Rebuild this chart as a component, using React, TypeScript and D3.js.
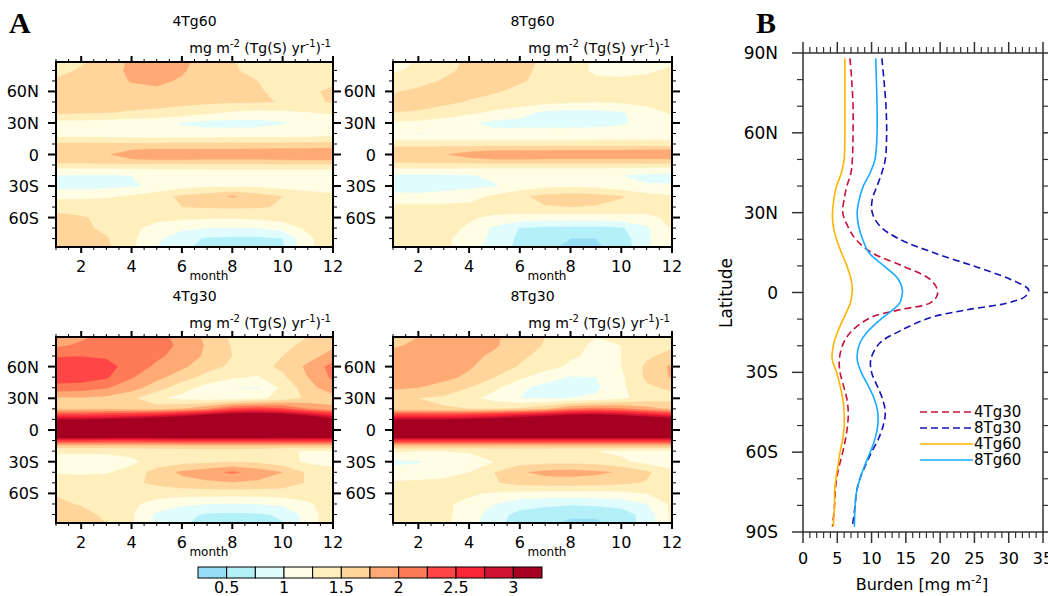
import React from 'react';
import * as d3 from 'd3';

// ---------- Panel A data (zonal-mean burden per unit emission, month x latitude) ----------
const MONTHS = [1, 2, 3, 4, 5, 6, 7, 8, 9, 10, 11, 12];
const LATS = [88, 80, 70, 60, 50, 40, 30, 20, 15, 10, 5, 0, -5, -10, -15, -20, -30, -40, -50, -60, -70, -80, -88];
const LEVELS = [0.5, 0.75, 1, 1.25, 1.5, 1.75, 2, 2.25, 2.5, 2.75, 3];
const LEVEL_COLORS = ['#96def5', '#b4f0f8', '#e0fcfd', '#fffde3', '#ffefbd', '#ffd59b', '#ffaa75', '#ff7a57', '#ff4545', '#fa2535', '#d01232', '#a50021'];
const COLORBAR_LABELS = ['0.5', '1', '1.5', '2', '2.5', '3'];
const MONTH_TICKS = [2, 4, 6, 8, 10, 12];
const LAT_TICKS = [60, 30, 0, -30, -60];
const LAT_TICK_LABELS = ['60N', '30N', '0', '30S', '60S'];

const A_4TG60 = [
  [1.45, 1.48, 1.6, 1.8, 1.9, 1.8, 1.65, 1.51, 1.45, 1.4, 1.4, 1.4],
  [1.45, 1.52, 1.65, 1.8, 1.88, 1.78, 1.62, 1.52, 1.45, 1.38, 1.38, 1.4],
  [1.52, 1.6, 1.68, 1.76, 1.8, 1.72, 1.6, 1.55, 1.5, 1.42, 1.4, 1.45],
  [1.62, 1.65, 1.68, 1.7, 1.7, 1.65, 1.6, 1.55, 1.52, 1.45, 1.45, 1.55],
  [1.6, 1.6, 1.6, 1.58, 1.58, 1.56, 1.55, 1.53, 1.52, 1.49, 1.45, 1.52],
  [1.55, 1.53, 1.51, 1.48, 1.45, 1.4, 1.3, 1.22, 1.18, 1.2, 1.24, 1.28],
  [1.15, 1.15, 1.12, 1.1, 1.05, 0.98, 0.92, 0.9, 0.92, 0.98, 1.08, 1.12],
  [1.15, 1.15, 1.12, 1.1, 1.08, 1.08, 1.1, 1.12, 1.12, 1.12, 1.15, 1.18],
  [1.3, 1.3, 1.3, 1.28, 1.28, 1.3, 1.3, 1.3, 1.3, 1.3, 1.3, 1.32],
  [1.55, 1.55, 1.55, 1.55, 1.55, 1.56, 1.56, 1.57, 1.57, 1.57, 1.58, 1.6],
  [1.65, 1.67, 1.7, 1.74, 1.76, 1.76, 1.76, 1.76, 1.77, 1.78, 1.78, 1.8],
  [1.7, 1.72, 1.74, 1.8, 1.85, 1.85, 1.85, 1.85, 1.85, 1.86, 1.87, 1.88],
  [1.65, 1.67, 1.7, 1.74, 1.75, 1.75, 1.74, 1.74, 1.74, 1.75, 1.76, 1.76],
  [1.42, 1.42, 1.42, 1.42, 1.42, 1.42, 1.45, 1.45, 1.45, 1.45, 1.45, 1.45],
  [1.15, 1.15, 1.15, 1.18, 1.2, 1.2, 1.2, 1.2, 1.2, 1.2, 1.2, 1.2],
  [1.0, 0.98, 0.98, 1.0, 1.05, 1.1, 1.12, 1.12, 1.12, 1.12, 1.12, 1.1],
  [0.92, 0.92, 0.93, 0.97, 1.05, 1.15, 1.2, 1.2, 1.2, 1.15, 1.12, 1.1],
  [1.2, 1.2, 1.22, 1.28, 1.4, 1.55, 1.62, 1.78, 1.62, 1.5, 1.38, 1.32],
  [1.4, 1.4, 1.38, 1.36, 1.42, 1.5, 1.52, 1.53, 1.52, 1.48, 1.42, 1.4],
  [1.58, 1.52, 1.45, 1.38, 1.32, 1.3, 1.28, 1.28, 1.3, 1.35, 1.4, 1.45],
  [1.6, 1.55, 1.45, 1.32, 1.15, 1.05, 1.0, 0.98, 1.0, 1.1, 1.3, 1.42],
  [1.62, 1.6, 1.52, 1.3, 1.05, 0.85, 0.72, 0.7, 0.7, 0.75, 1.2, 1.4],
  [1.6, 1.6, 1.55, 1.3, 1.0, 0.8, 0.68, 0.66, 0.66, 0.72, 1.2, 1.4],
];

const A_8TG60 = [
  [1.2, 1.26, 1.4, 1.55, 1.62, 1.58, 1.45, 1.32, 1.22, 1.18, 1.2, 1.22],
  [1.22, 1.3, 1.45, 1.55, 1.6, 1.55, 1.45, 1.32, 1.22, 1.2, 1.22, 1.28],
  [1.35, 1.42, 1.52, 1.58, 1.58, 1.52, 1.45, 1.35, 1.28, 1.28, 1.3, 1.32],
  [1.48, 1.55, 1.58, 1.58, 1.52, 1.45, 1.38, 1.32, 1.3, 1.28, 1.3, 1.38],
  [1.55, 1.58, 1.55, 1.48, 1.42, 1.38, 1.32, 1.28, 1.26, 1.28, 1.32, 1.35],
  [1.5, 1.48, 1.4, 1.3, 1.2, 1.1, 0.95, 0.92, 0.93, 0.97, 1.15, 1.28],
  [1.2, 1.18, 1.12, 1.02, 0.95, 0.92, 0.9, 0.9, 0.92, 0.96, 1.1, 1.15],
  [1.1, 0.98, 1.05, 1.0, 1.05, 1.1, 1.12, 1.12, 1.12, 1.12, 1.15, 1.18],
  [1.2, 1.2, 1.2, 1.2, 1.2, 1.2, 1.2, 1.2, 1.22, 1.22, 1.22, 1.22],
  [1.35, 1.35, 1.35, 1.35, 1.35, 1.35, 1.35, 1.35, 1.35, 1.35, 1.35, 1.35],
  [1.62, 1.63, 1.66, 1.7, 1.72, 1.72, 1.72, 1.73, 1.73, 1.73, 1.74, 1.74],
  [1.68, 1.7, 1.74, 1.8, 1.85, 1.85, 1.85, 1.85, 1.85, 1.85, 1.86, 1.86],
  [1.62, 1.63, 1.66, 1.72, 1.74, 1.74, 1.73, 1.73, 1.73, 1.73, 1.73, 1.73],
  [1.4, 1.4, 1.4, 1.4, 1.4, 1.4, 1.4, 1.4, 1.4, 1.4, 1.4, 1.4],
  [1.15, 1.15, 1.15, 1.15, 1.15, 1.15, 1.15, 1.15, 1.15, 1.14, 1.12, 1.12],
  [0.95, 0.95, 0.96, 0.98, 1.05, 1.1, 1.12, 1.12, 1.1, 1.0, 0.95, 0.94],
  [0.92, 0.9, 0.92, 0.95, 0.98, 1.1, 1.18, 1.2, 1.18, 1.08, 1.02, 1.02],
  [1.05, 1.05, 1.08, 1.15, 1.3, 1.45, 1.58, 1.62, 1.6, 1.52, 1.35, 1.28],
  [1.32, 1.32, 1.32, 1.32, 1.38, 1.42, 1.48, 1.5, 1.48, 1.42, 1.35, 1.32],
  [1.35, 1.35, 1.33, 1.28, 1.2, 1.15, 1.12, 1.12, 1.12, 1.15, 1.2, 1.3],
  [1.35, 1.35, 1.32, 1.22, 0.95, 0.74, 0.7, 0.68, 0.68, 0.72, 0.95, 1.28],
  [1.4, 1.38, 1.3, 1.15, 0.92, 0.7, 0.6, 0.5, 0.5, 0.62, 0.95, 1.25],
  [1.52, 1.4, 1.3, 1.12, 0.9, 0.68, 0.55, 0.45, 0.46, 0.6, 0.95, 1.25],
];

const A_4TG30 = [
  [1.85, 1.95, 2.1, 2.15, 2.1, 1.9, 1.7, 1.45, 1.4, 1.42, 1.5, 1.6],
  [1.95, 2.05, 2.15, 2.15, 2.1, 1.95, 1.72, 1.48, 1.42, 1.45, 1.55, 1.7],
  [2.22, 2.24, 2.22, 2.15, 2.05, 1.9, 1.7, 1.5, 1.42, 1.5, 1.65, 1.85],
  [2.42, 2.42, 2.33, 2.15, 1.95, 1.8, 1.6, 1.45, 1.42, 1.55, 1.8, 2.1],
  [2.4, 2.38, 2.28, 2.02, 1.82, 1.62, 1.4, 1.28, 1.22, 1.45, 1.75, 2.05],
  [2.15, 2.12, 2.02, 1.85, 1.62, 1.35, 1.15, 1.0, 0.98, 1.3, 1.65, 1.9],
  [1.7, 1.72, 1.68, 1.55, 1.28, 1.18, 1.12, 1.12, 1.18, 1.35, 1.55, 1.65],
  [1.7, 1.7, 1.7, 1.65, 1.65, 1.75, 1.95, 2.3, 2.4, 2.3, 2.0, 1.8],
  [2.3, 2.3, 2.35, 2.4, 2.5, 2.7, 2.9, 3.1, 3.15, 3.05, 2.8, 2.5],
  [3.0, 3.0, 3.05, 3.15, 3.3, 3.5, 3.8, 4.0, 4.0, 3.9, 3.6, 3.1],
  [4.5, 4.5, 4.5, 4.5, 4.5, 4.5, 4.5, 4.5, 4.5, 4.5, 4.5, 4.5],
  [5.0, 5.0, 5.0, 5.0, 5.0, 5.0, 5.0, 5.0, 5.0, 5.0, 5.0, 5.0],
  [3.6, 3.6, 3.55, 3.5, 3.5, 3.5, 3.5, 3.5, 3.5, 3.45, 3.4, 3.4],
  [2.45, 2.45, 2.4, 2.4, 2.45, 2.5, 2.5, 2.5, 2.5, 2.5, 2.5, 2.5],
  [1.65, 1.65, 1.65, 1.65, 1.65, 1.65, 1.65, 1.65, 1.65, 1.65, 1.65, 1.65],
  [1.3, 1.3, 1.3, 1.32, 1.35, 1.38, 1.4, 1.4, 1.38, 1.3, 1.22, 1.22],
  [1.12, 1.1, 1.12, 1.2, 1.35, 1.42, 1.45, 1.48, 1.45, 1.35, 1.2, 1.15],
  [1.22, 1.2, 1.22, 1.35, 1.6, 1.8, 1.9, 2.05, 1.9, 1.75, 1.45, 1.35],
  [1.4, 1.4, 1.42, 1.45, 1.55, 1.65, 1.7, 1.72, 1.7, 1.62, 1.48, 1.42],
  [1.48, 1.45, 1.4, 1.35, 1.35, 1.35, 1.35, 1.35, 1.35, 1.38, 1.4, 1.45],
  [1.55, 1.48, 1.4, 1.3, 1.15, 1.05, 1.0, 0.98, 1.0, 1.05, 1.2, 1.4],
  [1.6, 1.58, 1.45, 1.28, 0.95, 0.82, 0.72, 0.7, 0.72, 0.78, 1.1, 1.45],
  [1.6, 1.6, 1.5, 1.28, 0.95, 0.78, 0.68, 0.65, 0.66, 0.74, 1.1, 1.45],
];

const A_8TG30 = [
  [1.6, 1.75, 1.85, 1.85, 1.78, 1.65, 1.5, 1.3, 1.25, 1.25, 1.3, 1.4],
  [1.7, 1.82, 1.88, 1.85, 1.78, 1.62, 1.48, 1.3, 1.22, 1.25, 1.35, 1.45],
  [1.88, 1.9, 1.88, 1.82, 1.7, 1.55, 1.42, 1.28, 1.2, 1.25, 1.45, 1.6],
  [1.92, 1.92, 1.88, 1.78, 1.62, 1.48, 1.35, 1.2, 1.15, 1.25, 1.55, 1.8],
  [1.88, 1.88, 1.82, 1.7, 1.5, 1.3, 1.1, 0.98, 1.0, 1.2, 1.55, 1.78],
  [1.8, 1.75, 1.65, 1.5, 1.3, 1.05, 0.92, 0.9, 0.95, 1.2, 1.45, 1.55],
  [1.52, 1.5, 1.45, 1.32, 1.15, 1.0, 0.98, 1.0, 1.05, 1.2, 1.35, 1.4],
  [1.55, 1.55, 1.52, 1.5, 1.5, 1.55, 1.7, 2.0, 2.1, 2.05, 1.85, 1.7],
  [2.3, 2.3, 2.3, 2.35, 2.45, 2.6, 2.75, 2.9, 2.95, 2.85, 2.65, 2.45],
  [3.0, 3.0, 3.0, 3.05, 3.15, 3.3, 3.5, 3.7, 3.7, 3.6, 3.4, 3.2],
  [4.5, 4.5, 4.5, 4.5, 4.5, 4.5, 4.5, 4.5, 4.5, 4.5, 4.5, 4.5],
  [5.0, 5.0, 5.0, 5.0, 5.0, 5.0, 5.0, 5.0, 5.0, 5.0, 5.0, 5.0],
  [3.5, 3.5, 3.5, 3.5, 3.5, 3.5, 3.5, 3.5, 3.5, 3.5, 3.5, 3.5],
  [2.5, 2.5, 2.5, 2.5, 2.5, 2.5, 2.5, 2.5, 2.5, 2.5, 2.5, 2.5],
  [1.7, 1.7, 1.7, 1.7, 1.7, 1.7, 1.7, 1.7, 1.7, 1.7, 1.7, 1.7],
  [1.28, 1.25, 1.25, 1.28, 1.3, 1.3, 1.3, 1.28, 1.25, 1.2, 1.18, 1.18],
  [0.95, 0.98, 1.05, 1.12, 1.25, 1.38, 1.42, 1.42, 1.4, 1.3, 1.15, 1.12],
  [1.1, 1.1, 1.15, 1.25, 1.5, 1.72, 1.82, 1.85, 1.8, 1.72, 1.55, 1.3],
  [1.28, 1.3, 1.32, 1.38, 1.48, 1.58, 1.62, 1.62, 1.6, 1.55, 1.48, 1.38],
  [1.32, 1.32, 1.3, 1.28, 1.22, 1.18, 1.15, 1.15, 1.15, 1.18, 1.25, 1.35],
  [1.35, 1.32, 1.28, 1.2, 1.0, 0.85, 0.8, 0.78, 0.8, 0.85, 1.0, 1.3],
  [1.4, 1.38, 1.3, 1.15, 0.85, 0.68, 0.62, 0.55, 0.55, 0.62, 0.85, 1.3],
  [1.4, 1.38, 1.3, 1.12, 0.82, 0.65, 0.55, 0.45, 0.45, 0.6, 0.85, 1.3],
];

// ---------- Panel B data (annual zonal-mean burden, mg m-2) ----------
const B_LATS = [88, 80, 70, 60, 50, 45, 40, 35, 30, 25, 20, 15, 10, 5, 1, -1.5, -4, -6.5, -9.5, -14.5, -19, -25, -30, -35, -40, -45, -50, -55, -60, -65, -70, -75, -80, -88];
const B_4TG30 = [6.85, 7.1, 7.3, 7.3, 7.2, 7.0, 6.4, 6.0, 5.8, 6.5, 7.7, 10.0, 14.5, 18.5, 19.6, 19.5, 18.5, 14.1, 9.8, 7.1, 5.9, 5.3, 5.4, 5.9, 6.4, 6.6, 6.5, 6.2, 5.8, 5.3, 4.9, 4.7, 4.6, 4.3];
const B_8TG30 = [11.5, 11.8, 12.1, 12.2, 12.0, 11.5, 10.8, 10.1, 10.1, 11.2, 14.1, 19.0, 24.8, 30.2, 32.9, 32.4, 29.7, 23.9, 18.5, 14.1, 11.2, 9.9, 10.0, 10.8, 11.6, 12.0, 11.7, 11.0, 10.0, 9.1, 8.3, 7.8, 7.6, 7.2];
const B_4TG60 = [6.1, 6.1, 6.1, 6.1, 6.0, 5.6, 4.9, 4.5, 4.3, 4.4, 4.9, 5.6, 6.4, 7.0, 7.2, 7.1, 6.9, 6.5, 5.95, 5.1, 4.5, 4.25, 4.9, 5.4, 5.8, 6.0, 6.0, 5.8, 5.4, 5.1, 4.8, 4.6, 4.6, 4.4];
const B_8TG60 = [10.6, 10.7, 10.8, 10.8, 10.5, 9.8, 8.8, 8.2, 7.9, 8.1, 8.7, 9.6, 11.8, 13.9, 14.5, 14.4, 14.1, 13.1, 11.6, 9.5, 8.3, 7.9, 8.5, 9.5, 10.4, 10.9, 10.9, 10.5, 9.8, 9.0, 8.3, 7.8, 7.6, 7.5];
const B_SERIES_NAMES = ['4Tg30', '8Tg30', '4Tg60', '8Tg60'];
const B_X_TICKS = [0, 5, 10, 15, 20, 25, 30, 35];
const B_Y_TICKS = [90, 60, 30, 0, -30, -60, -90];
const B_Y_LABELS = ['90N', '60N', '30N', '0', '30S', '60S', '90S'];

// ---------- layout / styles ----------
const FONT = 'DejaVu Sans, Verdana, sans-serif';
const PANELS = [
  { id: 'p1', title: '4Tg60', data: A_4TG60, x0: 56, x1: 333, y0: 62, y1: 247 },
  { id: 'p2', title: '8Tg60', data: A_8TG60, x0: 393, x1: 672, y0: 62, y1: 247 },
  { id: 'p3', title: '4Tg30', data: A_4TG30, x0: 56, x1: 333, y0: 337, y1: 523 },
  { id: 'p4', title: '8Tg30', data: A_8TG30, x0: 393, x1: 672, y0: 337, y1: 523 },
];
const B_STYLES = [
  { color: '#c8103c', dash: '7,4' },
  { color: '#1414b4', dash: '7,4' },
  { color: '#ffb400', dash: null },
  { color: '#18aaff', dash: null },
];

function Units({ x, y }: { x: number; y: number }) {
  return (
    <text x={x} y={y} textAnchor="end" fontFamily={FONT} fontSize={14}>
      mg m<tspan dy={-6} fontSize={10}>-2</tspan>
      <tspan dy={6}> (Tg(S) yr</tspan>
      <tspan dy={-6} fontSize={10}>-1</tspan>
      <tspan dy={6}>)</tspan>
      <tspan dy={-6} fontSize={10}>-1</tspan>
    </text>
  );
}

function Heatmap({ p }: { p: any }) {
  const { id, title, data, x0, x1, y0, y1 } = p;
  const xs = d3.scaleLinear().domain([MONTHS[0], MONTHS[MONTHS.length - 1]]).range([x0, x1]);
  const ys = d3.scaleLinear().domain([88, -88]).range([y0, y1]);
  const idxLat = d3.scaleLinear().domain(LATS.map((_, i) => i)).range(LATS);
  const proj = d3.geoTransform({
    point: function (this: any, x: number, y: number) {
      this.stream.point(xs(MONTHS[0] + x - 0.5), ys(idxLat(y - 0.5)));
    },
  });
  const path = d3.geoPath(proj as any);
  const values = (data as number[][]).flat();
  const contours = d3.contours().size([MONTHS.length, LATS.length]).thresholds(LEVELS)(values);

  const minorLat = d3.range(-80, 81, 10).filter((l) => l % 30 !== 0);
  const minorMonth = d3.range(1, 12.01, 0.5).filter((m) => !MONTH_TICKS.includes(m));

  return (
    <g>
      <defs>
        <clipPath id={`clip-${id}`}>
          <rect x={x0} y={y0} width={x1 - x0} height={y1 - y0} />
        </clipPath>
      </defs>
      <g clipPath={`url(#clip-${id})`}>
        <rect x={x0} y={y0} width={x1 - x0} height={y1 - y0} fill={LEVEL_COLORS[0]} />
        {contours.map((c, i) => (
          <path key={i} d={path(c as any) || ''} fill={LEVEL_COLORS[i + 1]} stroke={LEVEL_COLORS[i + 1]} strokeWidth={0.3} />
        ))}
      </g>
      {LAT_TICKS.map((l) => (
        <g key={'M' + l} stroke="#000" strokeWidth={2}>
          <line x1={x0 - 8} x2={x0} y1={ys(l)} y2={ys(l)} />
          <line x1={x1} x2={x1 + 8} y1={ys(l)} y2={ys(l)} />
        </g>
      ))}
      {minorLat.map((l) => (
        <g key={'m' + l} stroke="#000" strokeWidth={1}>
          <line x1={x0 - 4} x2={x0} y1={ys(l)} y2={ys(l)} />
          <line x1={x1} x2={x1 + 4} y1={ys(l)} y2={ys(l)} />
        </g>
      ))}
      {MONTH_TICKS.map((m) => (
        <g key={'T' + m} stroke="#000" strokeWidth={2}>
          <line x1={xs(m)} x2={xs(m)} y1={y0 - 6} y2={y0} />
          <line x1={xs(m)} x2={xs(m)} y1={y1} y2={y1 + 6} />
        </g>
      ))}
      {minorMonth.map((m) => (
        <g key={'t' + m} stroke="#000" strokeWidth={1}>
          <line x1={xs(m)} x2={xs(m)} y1={y0 - 3} y2={y0} />
          <line x1={xs(m)} x2={xs(m)} y1={y1} y2={y1 + 3} />
        </g>
      ))}
      <rect x={x0} y={y0} width={x1 - x0} height={y1 - y0} fill="none" stroke="#000" strokeWidth={2} />
      {LAT_TICKS.map((l, i) => (
        <text key={'L' + l} x={x0 - 17} y={ys(l) + 6} textAnchor="end" fontFamily={FONT} fontSize={16}>
          {LAT_TICK_LABELS[i]}
        </text>
      ))}
      {MONTH_TICKS.map((m) => (
        <text key={'X' + m} x={xs(m)} y={y1 + 25} textAnchor="middle" fontFamily={FONT} fontSize={16}>
          {m}
        </text>
      ))}
      <text x={x0 + 0.552 * (x1 - x0)} y={y1 + 33} textAnchor="middle" fontFamily={FONT} fontSize={12}>
        month
      </text>
      <text x={(x0 + x1) / 2} y={y0 - 36} textAnchor="middle" fontFamily={FONT} fontSize={14}>
        {title}
      </text>
      <Units x={x1 - 2} y={y0 - 9} />
    </g>
  );
}

function Colorbar() {
  const cx = d3.scaleLinear().domain([0, LEVEL_COLORS.length]).range([198, 542]);
  return (
    <g>
      {LEVEL_COLORS.map((c, i) => (
        <rect key={i} x={cx(i)} y={567} width={cx(i + 1) - cx(i)} height={11} fill={c} stroke="#000" strokeWidth={1} />
      ))}
      {COLORBAR_LABELS.map((t, i) => (
        <text key={t} x={cx(1 + 2 * i)} y={593} textAnchor="middle" fontFamily={FONT} fontSize={16}>
          {t}
        </text>
      ))}
    </g>
  );
}

function PanelB() {
  const x0 = 803, x1 = 1043, y0 = 53, y1 = 532;
  const xb = d3.scaleLinear().domain([0, 35]).range([x0, x1]);
  const yb = d3.scaleLinear().domain([90, -90]).range([y0, y1]);
  const series = [B_4TG30, B_8TG30, B_4TG60, B_8TG60];
  const line = d3
    .line<[number, number]>()
    .x((d) => xb(d[1]))
    .y((d) => yb(d[0]))
    .curve(d3.curveCatmullRom);
  const minorX = d3.range(0, 35.01, 1).filter((v) => v % 5 !== 0);
  const minorY = d3.range(-80, 81, 10).filter((v) => v % 30 !== 0);
  const ax = '#333';
  const legendY = [412, 428, 444, 460];
  return (
    <g>
      {series.map((s, k) => (
        <path
          key={k}
          d={line(B_LATS.map((l, i) => [l, s[i]] as [number, number])) || ''}
          fill="none"
          stroke={B_STYLES[k].color}
          strokeWidth={1.6}
          strokeDasharray={B_STYLES[k].dash || undefined}
        />
      ))}
      <rect x={x0} y={y0} width={x1 - x0} height={y1 - y0} fill="none" stroke={ax} strokeWidth={1.5} />
      {B_Y_TICKS.map((l) => (
        <g key={'BM' + l} stroke={ax} strokeWidth={1.5}>
          <line x1={x0 - 11} x2={x0} y1={yb(l)} y2={yb(l)} />
          <line x1={x1} x2={x1 + 11} y1={yb(l)} y2={yb(l)} />
        </g>
      ))}
      {minorY.map((l) => (
        <g key={'Bm' + l} stroke={ax} strokeWidth={1.2}>
          <line x1={x0 - 6} x2={x0} y1={yb(l)} y2={yb(l)} />
          <line x1={x1} x2={x1 + 6} y1={yb(l)} y2={yb(l)} />
        </g>
      ))}
      {B_X_TICKS.map((v) => (
        <g key={'BX' + v} stroke={ax} strokeWidth={1.5}>
          <line x1={xb(v)} x2={xb(v)} y1={y0 - 11} y2={y0} />
          <line x1={xb(v)} x2={xb(v)} y1={y1} y2={y1 + 11} />
        </g>
      ))}
      {minorX.map((v) => (
        <g key={'Bx' + v} stroke={ax} strokeWidth={1.2}>
          <line x1={xb(v)} x2={xb(v)} y1={y0 - 6} y2={y0} />
          <line x1={xb(v)} x2={xb(v)} y1={y1} y2={y1 + 6} />
        </g>
      ))}
      {B_Y_TICKS.map((l, i) => (
        <text key={'BL' + l} x={x0 - 25} y={yb(l) + 6} textAnchor="end" fontFamily={FONT} fontSize={17}>
          {B_Y_LABELS[i]}
        </text>
      ))}
      {B_X_TICKS.map((v) => (
        <text key={'BT' + v} x={xb(v)} y={y1 + 32} textAnchor="middle" fontFamily={FONT} fontSize={16}>
          {v}
        </text>
      ))}
      <text x={922} y={590} textAnchor="middle" fontFamily={FONT} fontSize={16}>
        Burden [mg m<tspan dy={-7} fontSize={11}>-2</tspan>
        <tspan dy={7}>]</tspan>
      </text>
      <text transform="translate(732,293) rotate(-90)" textAnchor="middle" fontFamily={FONT} fontSize={17}>
        Latitude
      </text>
      {B_SERIES_NAMES.map((n, k) => (
        <g key={n}>
          <line x1={920} x2={973} y1={legendY[k]} y2={legendY[k]} stroke={B_STYLES[k].color} strokeWidth={1.6} strokeDasharray={B_STYLES[k].dash || undefined} />
          <text x={974} y={legendY[k] + 5} fontFamily={FONT} fontSize={15}>
            {n}
          </text>
        </g>
      ))}
    </g>
  );
}

export default function App() {
  return (
    <svg width={1048} height={596} style={{ position: 'absolute', left: 0, top: 0, background: '#fff' }}>
      <rect width={1048} height={596} fill="#fff" />
      <text x={9} y={33} fontFamily="Liberation Serif, Times New Roman, serif" fontWeight="bold" fontSize={30}>A</text>
      <text x={756} y={33} fontFamily="Liberation Serif, Times New Roman, serif" fontWeight="bold" fontSize={30}>B</text>
      {PANELS.map((p) => (
        <Heatmap key={p.id} p={p} />
      ))}
      <Colorbar />
      <PanelB />
    </svg>
  );
}
